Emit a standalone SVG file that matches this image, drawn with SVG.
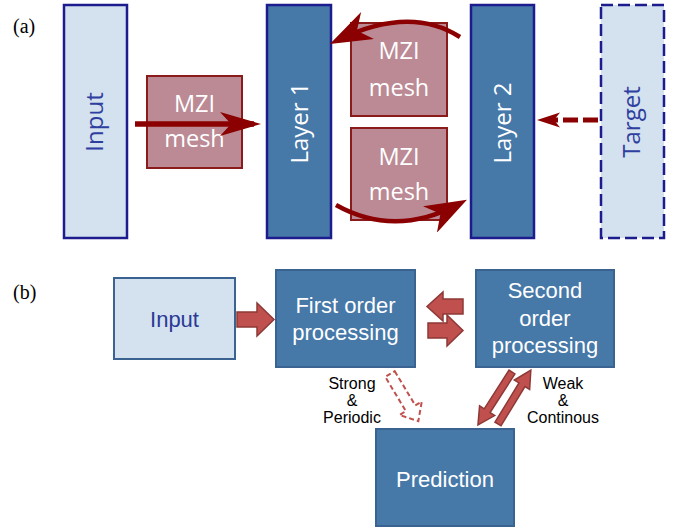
<svg xmlns="http://www.w3.org/2000/svg" width="679" height="529" viewBox="0 0 679 529">
<style>
.lbl{font-family:"Liberation Serif","Times New Roman",serif;font-size:20px;fill:#000}
.light{fill:#d4e1ee;stroke:#1c1c8f;stroke-width:2.5}
.dark{fill:#4678a8;stroke:#1c1c8f;stroke-width:2.5}
.mzi{fill:#bb8a95;stroke:#8b1a1a;stroke-width:2}
.ta{font-family:"Open Sans","Noto Sans",sans-serif;font-size:24px;text-anchor:middle}
.tm{font-family:"Open Sans","Noto Sans",sans-serif;font-size:23.5px;text-anchor:middle;fill:#fff}
.bl{fill:#d4e1ee;stroke:#3a6392;stroke-width:2}
.bd{fill:#4678a8;stroke:#3a6392;stroke-width:2}
.tb{font-family:"Liberation Sans",Arial,sans-serif;font-size:22px;text-anchor:middle;fill:#fff}
.ts{font-family:"Liberation Sans",Arial,sans-serif;font-size:16px;text-anchor:middle;fill:#000}
.blk{fill:#c0504d;stroke:#8c3836;stroke-width:1.5}
.red{fill:none;stroke:#8b0000;stroke-width:4.5}
</style>
<defs>
<marker id="head" viewBox="0 0 42 30" refX="33" refY="15" markerWidth="42" markerHeight="30" markerUnits="userSpaceOnUse" orient="auto">
<path d="M0,0 L42,15 L0,30 L12,15 Z" fill="#8b0000"/>
</marker>
</defs>
<text class="lbl" x="13" y="33">(a)</text>
<text class="lbl" x="13" y="299">(b)</text>

<g id="a-input"><rect class="light" x="64" y="5" width="63" height="233"/>
<text class="ta" fill="#2e3f9f" transform="translate(103,122) rotate(-90)">Input</text></g>
<g id="a-mzi1"><rect class="mzi" x="147" y="76" width="95" height="92"/>
<text class="tm" x="194.5" y="112">MZI</text><text class="tm" x="194.5" y="147">mesh</text></g>
<g id="a-layer1"><rect class="dark" x="267" y="5" width="64" height="233"/>
<text class="ta" fill="#fff" transform="translate(308,123) rotate(-90)">Layer 1</text></g>
<g id="a-mzi2"><rect class="mzi" x="351" y="23" width="96" height="93"/>
<text class="tm" x="399" y="59">MZI</text><text class="tm" x="399" y="96">mesh</text></g>
<g id="a-mzi3"><rect class="mzi" x="351" y="128" width="96" height="92"/>
<text class="tm" x="399" y="165">MZI</text><text class="tm" x="399" y="200">mesh</text></g>
<g id="a-layer2"><rect class="dark" x="471" y="5" width="63" height="233"/>
<text class="ta" fill="#fff" transform="translate(511,123) rotate(-90)">Layer 2</text></g>
<g id="a-target"><rect x="601" y="5" width="63" height="233" fill="#d4e1ee" stroke="#1c1c8f" stroke-width="2.5" stroke-dasharray="12 5"/>
<text class="ta" fill="#2e3f9f" transform="translate(640,122) rotate(-90)">Target</text></g>

<g id="b-input"><rect class="bl" x="114" y="278" width="121" height="81"/>
<text class="tb" style="fill:#2a3a96" x="174.5" y="327">Input</text></g>
<g id="b-first"><rect class="bd" x="276" y="270" width="139" height="97"/>
<text class="tb" x="345.5" y="313">First order</text><text class="tb" x="345.5" y="340">processing</text></g>
<g id="b-second"><rect class="bd" x="476" y="270" width="138" height="97"/>
<text class="tb" x="545" y="298">Second</text><text class="tb" x="545" y="326">order</text><text class="tb" x="545" y="353">processing</text></g>
<g id="b-pred"><rect class="bd" x="376" y="429" width="138" height="97"/>
<text class="tb" x="445" y="487">Prediction</text></g>

<g id="connectors">
<line x1="135" y1="124" x2="254" y2="124" stroke="#8b0000" stroke-width="5.5"/>
<path d="M261,124 L220,112 L231,124 L220,136 Z" fill="#8b0000"/>
<path class="red" d="M460,37 Q410,5 338,40" marker-end="url(#head)"/>
<path class="red" d="M336,205 Q395,238 459,204" marker-end="url(#head)"/>
<line x1="598" y1="120" x2="553" y2="120" stroke="#8b0000" stroke-width="5" stroke-dasharray="15 5"/>
<path d="M537,120 L560,112.5 L554,120 L560,127.5 Z" fill="#8b0000"/>

<polygon class="blk" points="237,312 257,312 257,303 274,319.5 257,336 257,327 237,327"/>
<polygon class="blk" points="463,299 443,299 443,292 427,306.5 443,321 443,314 463,314"/>
<polygon class="blk" points="428,323 447,323 447,315 463,330.5 447,346 447,338 428,338"/>
<polygon class="blk" transform="translate(512,372) rotate(122.7)" points="0,-3.5 46,-3.5 46,-9 63,0 46,9 46,3.5 0,3.5"/>
<polygon class="blk" transform="translate(498,424) rotate(-58.6)" points="0,-3.5 46,-3.5 46,-9 63,0 46,9 46,3.5 0,3.5"/>
<polygon transform="translate(390,374) rotate(59)" points="0,-5.5 40,-5.5 40,-13 55,0 40,13 40,5.5 0,5.5" fill="#fff" stroke="#c0504d" stroke-width="2" stroke-dasharray="5 3"/>
</g>
<g id="labels">
<text class="ts" x="352" y="389">Strong</text><text class="ts" x="352" y="406">&amp;</text><text class="ts" x="352" y="423">Periodic</text>
<text class="ts" x="563" y="389">Weak</text><text class="ts" x="563" y="406">&amp;</text><text class="ts" x="563" y="423">Continous</text>
</g>
</svg>
